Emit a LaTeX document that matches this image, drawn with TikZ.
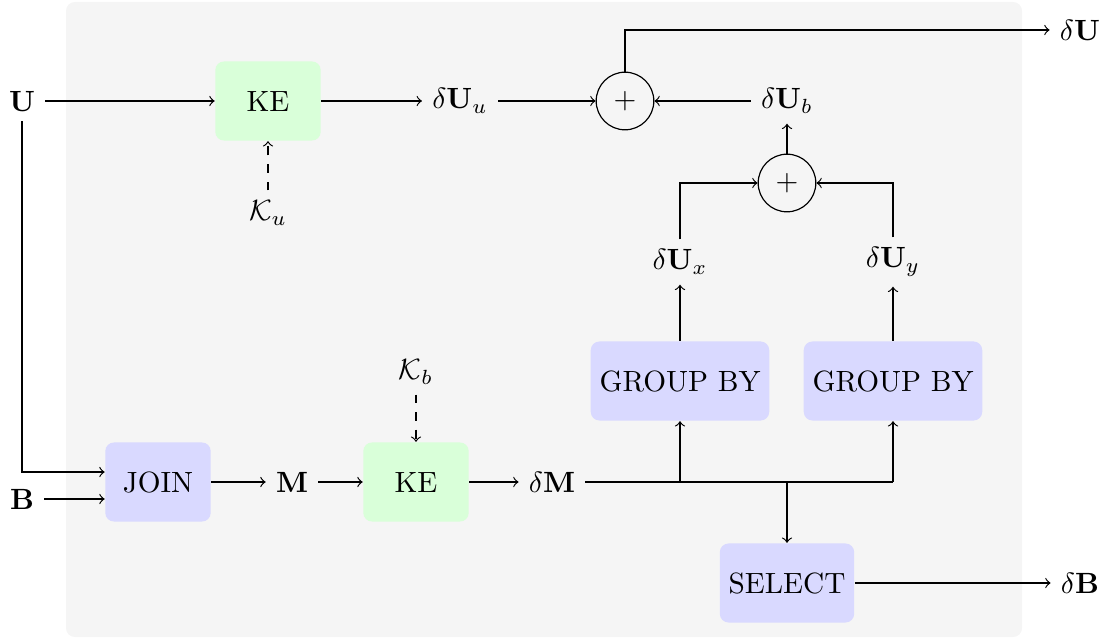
\documentclass[tikz,border=0pt]{standalone}
\usetikzlibrary{calc}
\begin{document}
\begin{tikzpicture}[x=0.3413pt,y=-0.3413pt,
  opbox/.style={rounded corners=3pt,minimum width=36pt,minimum height=27pt,inner sep=3pt},
  bluebox/.style={opbox,fill=blue!15},
  greenbox/.style={opbox,fill=green!15},
  sumnode/.style={circle,draw},
  arr/.style={->},
  darr/.style={->,dashed}]
\useasboundingbox (0,0) rectangle (1102,638);
\fill[black!4,rounded corners=3pt] (66,2) rectangle (1022,637);
% row 1
\node (U) at (22,101) {$\mathbf{U}$};
\node[greenbox] (KE1) at (268,101) {KE};
\node (dUu) at (460,101) {$\delta\mathbf{U}_u$};
\node[sumnode] (p1) at (625,101) {$+$};
\node (dUb) at (787,101) {$\delta\mathbf{U}_b$};
\node (dU) at (1080,30) {$\delta\mathbf{U}$};
\node (Ku) at (268,213) {$\mathcal{K}_u$};
\node[sumnode] (p2) at (787,183) {$+$};
\node (dUx) at (680,262) {$\delta\mathbf{U}_x$};
\node (dUy) at (893,262) {$\delta\mathbf{U}_y$};
\node[bluebox] (GB1) at (680,381) {GROUP BY};
\node[bluebox] (GB2) at (893,381) {GROUP BY};
\node (Kb) at (416,372) {$\mathcal{K}_b$};
% row 2
\node[bluebox] (J) at (158,482) {JOIN};
\node (B) at (22,499) {$\mathbf{B}$};
\node (M) at (292,482) {$\mathbf{M}$};
\node[greenbox] (KE2) at (416,482) {KE};
\node (dM) at (552,482) {$\delta\mathbf{M}$};
\node[bluebox] (S) at (787,583) {SELECT};
\node (dB) at (1080,583) {$\delta\mathbf{B}$};
\coordinate (b1) at (680,482);
\coordinate (b2) at (893,482);
\coordinate (b3) at (787,482);
% connectors
\draw[arr] (U) -- (KE1);
\draw[arr] (KE1) -- (dUu);
\draw[arr] (dUu) -- (p1);
\draw[arr] (dUb) -- (p1);
\draw[arr] (p1.north) |- (dU);
\draw[darr] (Ku) -- (KE1);
\draw[arr] (p2) -- (dUb);
\draw[arr] (dUx) |- (p2);
\draw[arr] (dUy) |- (p2);
\draw[arr] (GB1) -- (dUx);
\draw[arr] (GB2) -- (dUy);
\draw[arr] (U) |- ([yshift=3.4pt]J.west);
\draw[arr] (B) -- (B -| J.west);
\draw[arr] (J) -- (M);
\draw[arr] (M) -- (KE2);
\draw[darr] (Kb) -- (KE2);
\draw[arr] (KE2) -- (dM);
\draw (dM) -- (b2);
\draw[arr] (b1) -- (GB1);
\draw[arr] (b2) -- (GB2);
\draw[arr] (b3) -- (S);
\draw[arr] (S) -- (dB);
\end{tikzpicture}
\end{document}
